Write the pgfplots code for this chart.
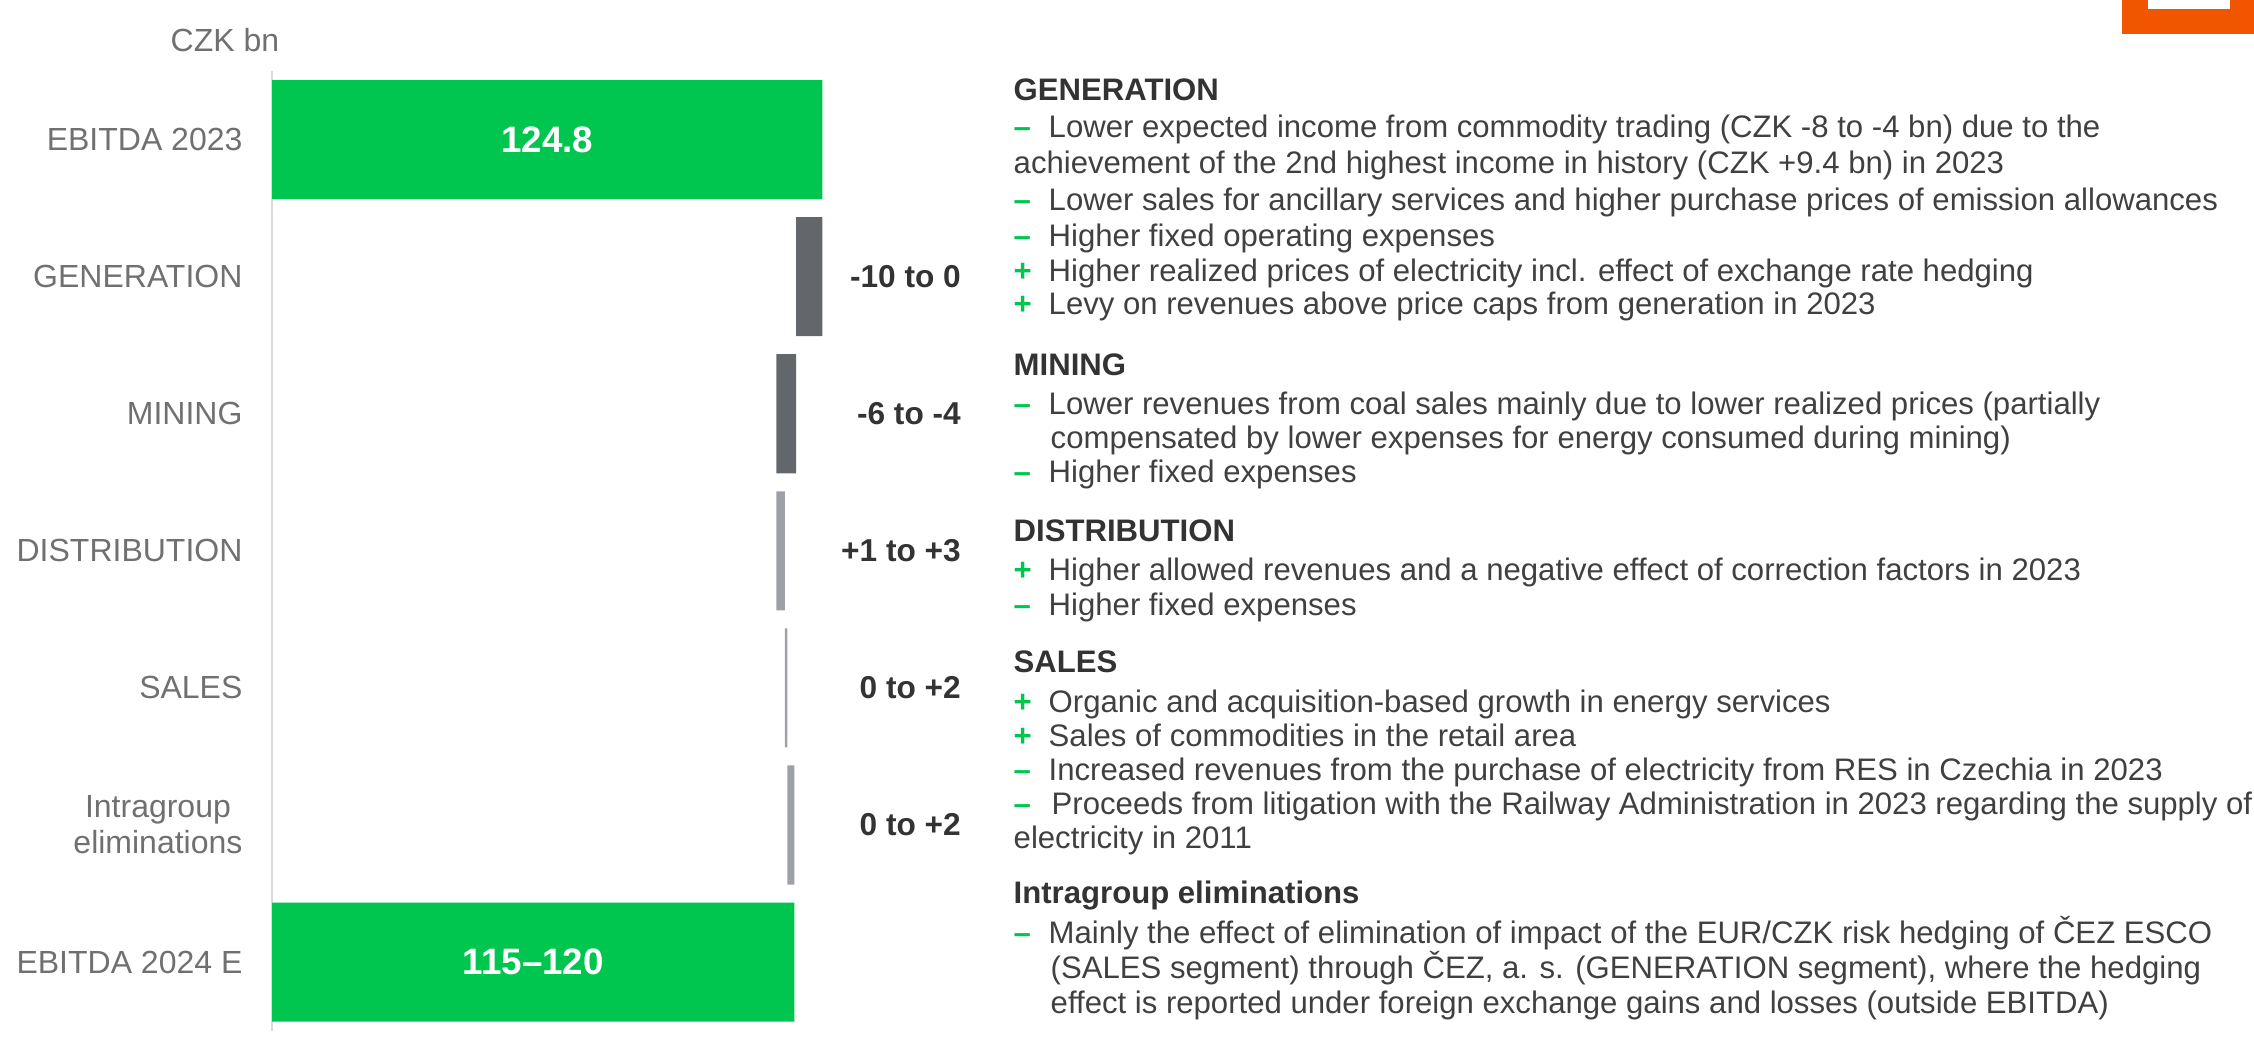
\documentclass[border=0pt]{standalone}
\usepackage{pgfplots}
\pgfplotsset{compat=1.18}
\usepackage{fontspec}
\setmainfont{Liberation Sans}

\definecolor{cezgreen}{RGB}{0,198,80}
\definecolor{bardark}{RGB}{99,102,106}
\definecolor{barlight}{RGB}{157,161,167}
\definecolor{labgrey}{RGB}{112,112,112}
\definecolor{valdark}{RGB}{51,51,51}
\definecolor{txt}{RGB}{64,64,64}
\definecolor{cezorange}{RGB}{242,85,0}
\definecolor{axisgrey}{RGB}{217,217,217}

\newcommand\catfont{\fontsize{9.1}{10.2}\selectfont}
\newcommand\bodyfont{\fontsize{8.85}{10}\selectfont}

\tikzset{
  tx/.style={anchor=base west, inner sep=0pt, font=\bodyfont, text=txt},
  hd/.style={anchor=base west, inner sep=0pt, font=\bfseries\bodyfont, text=valdark},
  bul/.style={anchor=base west, inner sep=0pt, font=\bfseries\bodyfont, text=cezgreen},
}
% bullet markers: minus / plus
\newcommand\mi[1]{\node[bul] at (1013,#1) {–};}
\newcommand\pl[1]{\node[bul] at (1013,#1) {+};}

\begin{document}
\begin{tikzpicture}[x=0.01cm, y=-0.01cm]
\useasboundingbox (0,0) rectangle (2254,1062);

% corner logo piece
\fill[cezorange] (2122,0) rectangle (2254,34);
\fill[white] (2148,0) rectangle (2230,9);

\node[anchor=base west, inner sep=0pt, font=\fontsize{9.1}{11}\selectfont, text=labgrey] at (170,51) {CZK bn};

\begin{axis}[
    at={(2.72cm,-0.71cm)}, anchor=north west,
    x=0.044046cm, y=1.37cm,
    xmin=0, xmax=124.8, ymin=-0.5, ymax=6.5,
    y dir=reverse,
    xbar stacked,
    bar width=1.19cm,
    axis x line=none,
    axis y line*=left,
    y axis line style={draw=axisgrey, line width=0.57pt, -},
    ytick={0,...,6},
    yticklabels={EBITDA 2023, GENERATION, MINING, DISTRIBUTION, SALES, {Intragroup\\eliminations}, EBITDA 2024 E},
    major tick length=0pt,
    yticklabel style={font=\catfont, text=labgrey, align=center, inner sep=0pt, xshift=-0.29cm},
    clip=false,
]
% invisible base of the waterfall
\addplot[draw=none, fill=none] coordinates {(0,0) (118.9,1) (114.4,2) (114.4,3) (116.3,4) (116.9,5) (0,6)};
\addplot[draw=none, fill=bardark] coordinates {(0,0) (5.9,1) (4.5,2) (0,3) (0,4) (0,5) (0,6)};
\addplot[draw=none, fill=barlight] coordinates {(0,0) (0,1) (0,2) (1.9,3) (0.6,4) (1.6,5) (0,6)};
\addplot[draw=none, fill=cezgreen] coordinates {(124.8,0) (0,1) (0,2) (0,3) (0,4) (0,5) (118.5,6)};

\coordinate (v0) at (axis cs:62.4,0);
\coordinate (v6) at (axis cs:59.25,6);

\node[anchor=east, inner sep=0pt, font=\bfseries\fontsize{9}{10}\selectfont, text=valdark] at (axis cs:156.4,1) {-10 to 0};
\node[anchor=east, inner sep=0pt, font=\bfseries\fontsize{9}{10}\selectfont, text=valdark] at (axis cs:156.4,2) {-6 to -4};
\node[anchor=east, inner sep=0pt, font=\bfseries\fontsize{9}{10}\selectfont, text=valdark] at (axis cs:156.4,3) {+1 to +3};
\node[anchor=east, inner sep=0pt, font=\bfseries\fontsize{9}{10}\selectfont, text=valdark] at (axis cs:156.4,4) {0 to +2};
\node[anchor=east, inner sep=0pt, font=\bfseries\fontsize{9}{10}\selectfont, text=valdark] at (axis cs:156.4,5) {0 to +2};
\end{axis}

% totals written on the green bars (after the stacked bars are drawn)
\node[font=\bfseries\fontsize{10.45}{12}\selectfont, text=white] at (v0) {124.8};
\node[font=\bfseries\fontsize{10.45}{12}\selectfont, text=white] at (v6) {115–120};

% commentary
\node[hd] at (1013,100) {GENERATION};
\mi{137} \node[tx] at (1048,137) {Lower expected income from commodity trading (CZK -8 to -4 bn) due to the};
\node[tx] at (1013,173) {achievement of the 2nd highest income in history (CZK +9.4 bn) in 2023};
\mi{210} \node[tx] at (1048,210) {Lower sales for ancillary services and higher purchase prices of emission allowances};
\mi{246} \node[tx] at (1048,246) {Higher fixed operating expenses};
\pl{281} \node[tx] at (1048,281) {Higher realized prices of electricity incl. effect of exchange rate hedging};
\pl{314} \node[tx] at (1048,314) {Levy on revenues above price caps from generation in 2023};

\node[hd] at (1013,375) {MINING};
\mi{414} \node[tx] at (1048,414) {Lower revenues from coal sales mainly due to lower realized prices (partially};
\node[tx] at (1050,448) {compensated by lower expenses for energy consumed during mining)};
\mi{482} \node[tx] at (1048,482) {Higher fixed expenses};

\node[hd] at (1013,541) {DISTRIBUTION};
\pl{580} \node[tx] at (1048,580) {Higher allowed revenues and a negative effect of correction factors in 2023};
\mi{615} \node[tx] at (1048,615) {Higher fixed expenses};

\node[hd] at (1013,672) {SALES};
\pl{712} \node[tx] at (1048,712) {Organic and acquisition-based growth in energy services};
\pl{746} \node[tx] at (1048,746) {Sales of commodities in the retail area};
\mi{780} \node[tx] at (1048,780) {Increased revenues from the purchase of electricity from RES in Czechia in 2023};
\mi{814} \node[tx] at (1051,814) {Proceeds from litigation with the Railway Administration in 2023 regarding the supply of};
\node[tx] at (1013,848) {electricity in 2011};

\node[hd] at (1013,903) {Intragroup eliminations};
\mi{943} \node[tx] at (1048,943) {Mainly the effect of elimination of impact of the EUR/CZK risk hedging of ČEZ ESCO};
\node[tx] at (1050,978) {(SALES segment) through ČEZ, a. s. (GENERATION segment), where the hedging};
\node[tx] at (1050,1013) {effect is reported under foreign exchange gains and losses (outside EBITDA)};
\end{tikzpicture}
\end{document}
